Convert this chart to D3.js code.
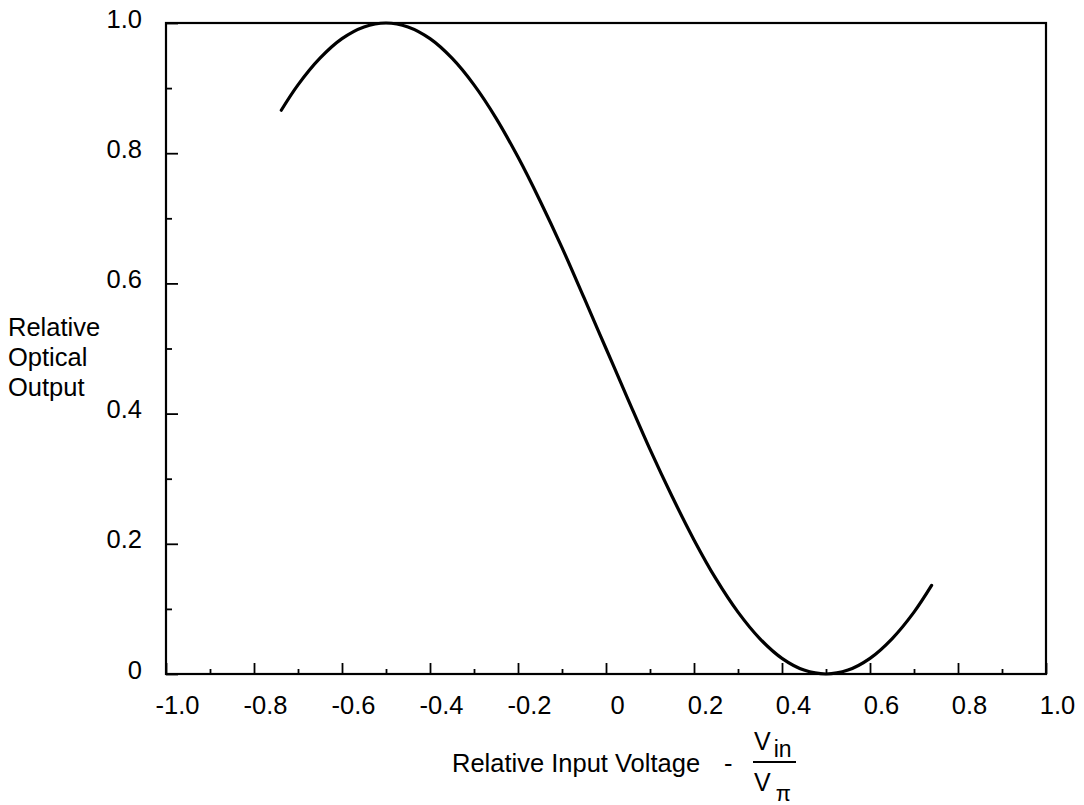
<!DOCTYPE html>
<html>
<head>
<meta charset="utf-8">
<script src="https://cdn.jsdelivr.net/npm/d3@7"></script>
<style>
  html, body { margin: 0; padding: 0; background: #fff; }
  svg { display: block; }
  text { font-family: "Liberation Sans", Arial, Helvetica, sans-serif; fill: #000; }
</style>
</head>
<body>
<svg id="chart" width="1084" height="805"></svg>
<script>
// Normalized input voltage Vin/Vpi and relative optical output of the modulator
const voltage = [-0.738, -0.70, -0.65, -0.60, -0.55, -0.50, -0.45, -0.40, -0.35, -0.30,
                 -0.25, -0.20, -0.15, -0.10, -0.05, 0.00, 0.05, 0.10, 0.15, 0.20,
                 0.25, 0.30, 0.35, 0.40, 0.45, 0.50, 0.55, 0.60, 0.65, 0.70, 0.74];
const output = [0.866, 0.905, 0.946, 0.976, 0.994, 1.000, 0.994, 0.976, 0.946, 0.905,
                0.854, 0.794, 0.727, 0.655, 0.578, 0.500, 0.422, 0.345, 0.273, 0.206,
                0.146, 0.095, 0.054, 0.024, 0.006, 0.000, 0.006, 0.024, 0.054, 0.095, 0.136];

const xTicks = [-1.0, -0.8, -0.6, -0.4, -0.2, 0, 0.2, 0.4, 0.6, 0.8, 1.0];
const xTickLabels = ["-1.0", "-0.8", "-0.6", "-0.4", "-0.2", "0", "0.2", "0.4", "0.6", "0.8", "1.0"];
const xMinorTicks = [-0.9, -0.7, -0.5, -0.3, -0.1, 0.1, 0.3, 0.5, 0.7, 0.9];
const yTicks = [0, 0.2, 0.4, 0.6, 0.8, 1.0];
const yTickLabels = ["0", "0.2", "0.4", "0.6", "0.8", "1.0"];
const yMinorTicks = [0.1, 0.3, 0.5, 0.7, 0.9];

const svg = d3.select("#chart");
const plotLeft = 166, plotRight = 1046, plotTop = 23, plotBottom = 674;
const fontSize = 25.5;

const x = d3.scaleLinear().domain([-1, 1]).range([plotLeft, plotRight]);
const y = d3.scaleLinear().domain([0, 1]).range([plotBottom, plotTop]);

// Plot frame
svg.append("rect")
  .attr("x", x(-1)).attr("y", y(1))
  .attr("width", x(1) - x(-1)).attr("height", y(0) - y(1))
  .attr("fill", "none").attr("stroke", "#000").attr("stroke-width", 2.2);

// Bottom axis: major and minor ticks pointing into the plot
const xMajor = svg.append("g").attr("transform", `translate(0,${plotBottom})`)
  .call(d3.axisBottom(x).tickValues(xTicks).tickSize(-11)
    .tickFormat((d, i) => xTickLabels[i]));
const xMinor = svg.append("g").attr("transform", `translate(0,${plotBottom})`)
  .call(d3.axisBottom(x).tickValues(xMinorTicks).tickSize(-5).tickFormat(""));

// Left axis
const yMajor = svg.append("g").attr("transform", `translate(${plotLeft},0)`)
  .call(d3.axisLeft(y).tickValues(yTicks).tickSize(-12).tickPadding(24)
    .tickFormat((d, i) => yTickLabels[i]));
const yMinor = svg.append("g").attr("transform", `translate(${plotLeft},0)`)
  .call(d3.axisLeft(y).tickValues(yMinorTicks).tickSize(-6).tickFormat(""));

[xMajor, xMinor, yMajor, yMinor].forEach(g => {
  g.select(".domain").remove();
  g.selectAll(".tick line").attr("stroke", "#000").attr("stroke-width", 1.8);
});
xMajor.selectAll(".tick text")
  .attr("font-size", fontSize).attr("y", 40).attr("dy", null).attr("dx", 11)
  .style("font-family", "'Liberation Sans', Arial, sans-serif");
yMajor.selectAll(".tick text")
  .attr("font-size", fontSize).attr("dy", 4)
  .style("font-family", "'Liberation Sans', Arial, sans-serif");

// Transfer curve
const line = d3.line()
  .x((d, i) => x(voltage[i]))
  .y((d, i) => y(output[i]))
  .curve(d3.curveCatmullRom.alpha(0.5));

svg.append("path")
  .datum(output)
  .attr("d", line)
  .attr("fill", "none")
  .attr("stroke", "#000")
  .attr("stroke-width", 3.2)
  .attr("stroke-linecap", "round");

// Y axis title
const yTitle = svg.append("text").attr("font-size", fontSize);
["Relative", "Optical", "Output"].forEach((t, i) => {
  yTitle.append("tspan").attr("x", 8).attr("y", 336 + i * 30).text(t);
});

// X axis title with the Vin / Vpi fraction
svg.append("text").attr("x", 452).attr("y", 772).attr("font-size", fontSize)
  .text("Relative Input Voltage");
svg.append("text").attr("x", 724).attr("y", 772).attr("font-size", fontSize).text("-");
const num = svg.append("text").attr("x", 754).attr("y", 750).attr("font-size", 25);
num.append("tspan").text("V");
num.append("tspan").attr("font-size", 23).attr("dy", 7).attr("dx", 3).text("in");
svg.append("line").attr("x1", 753).attr("x2", 796).attr("y1", 762).attr("y2", 762)
  .attr("stroke", "#000").attr("stroke-width", 2.2);
const den = svg.append("text").attr("x", 754).attr("y", 791).attr("font-size", 25);
den.append("tspan").text("V");
den.append("tspan").attr("font-size", 22).attr("dy", 10).attr("dx", 5).text("π");
</script>
</body>
</html>
